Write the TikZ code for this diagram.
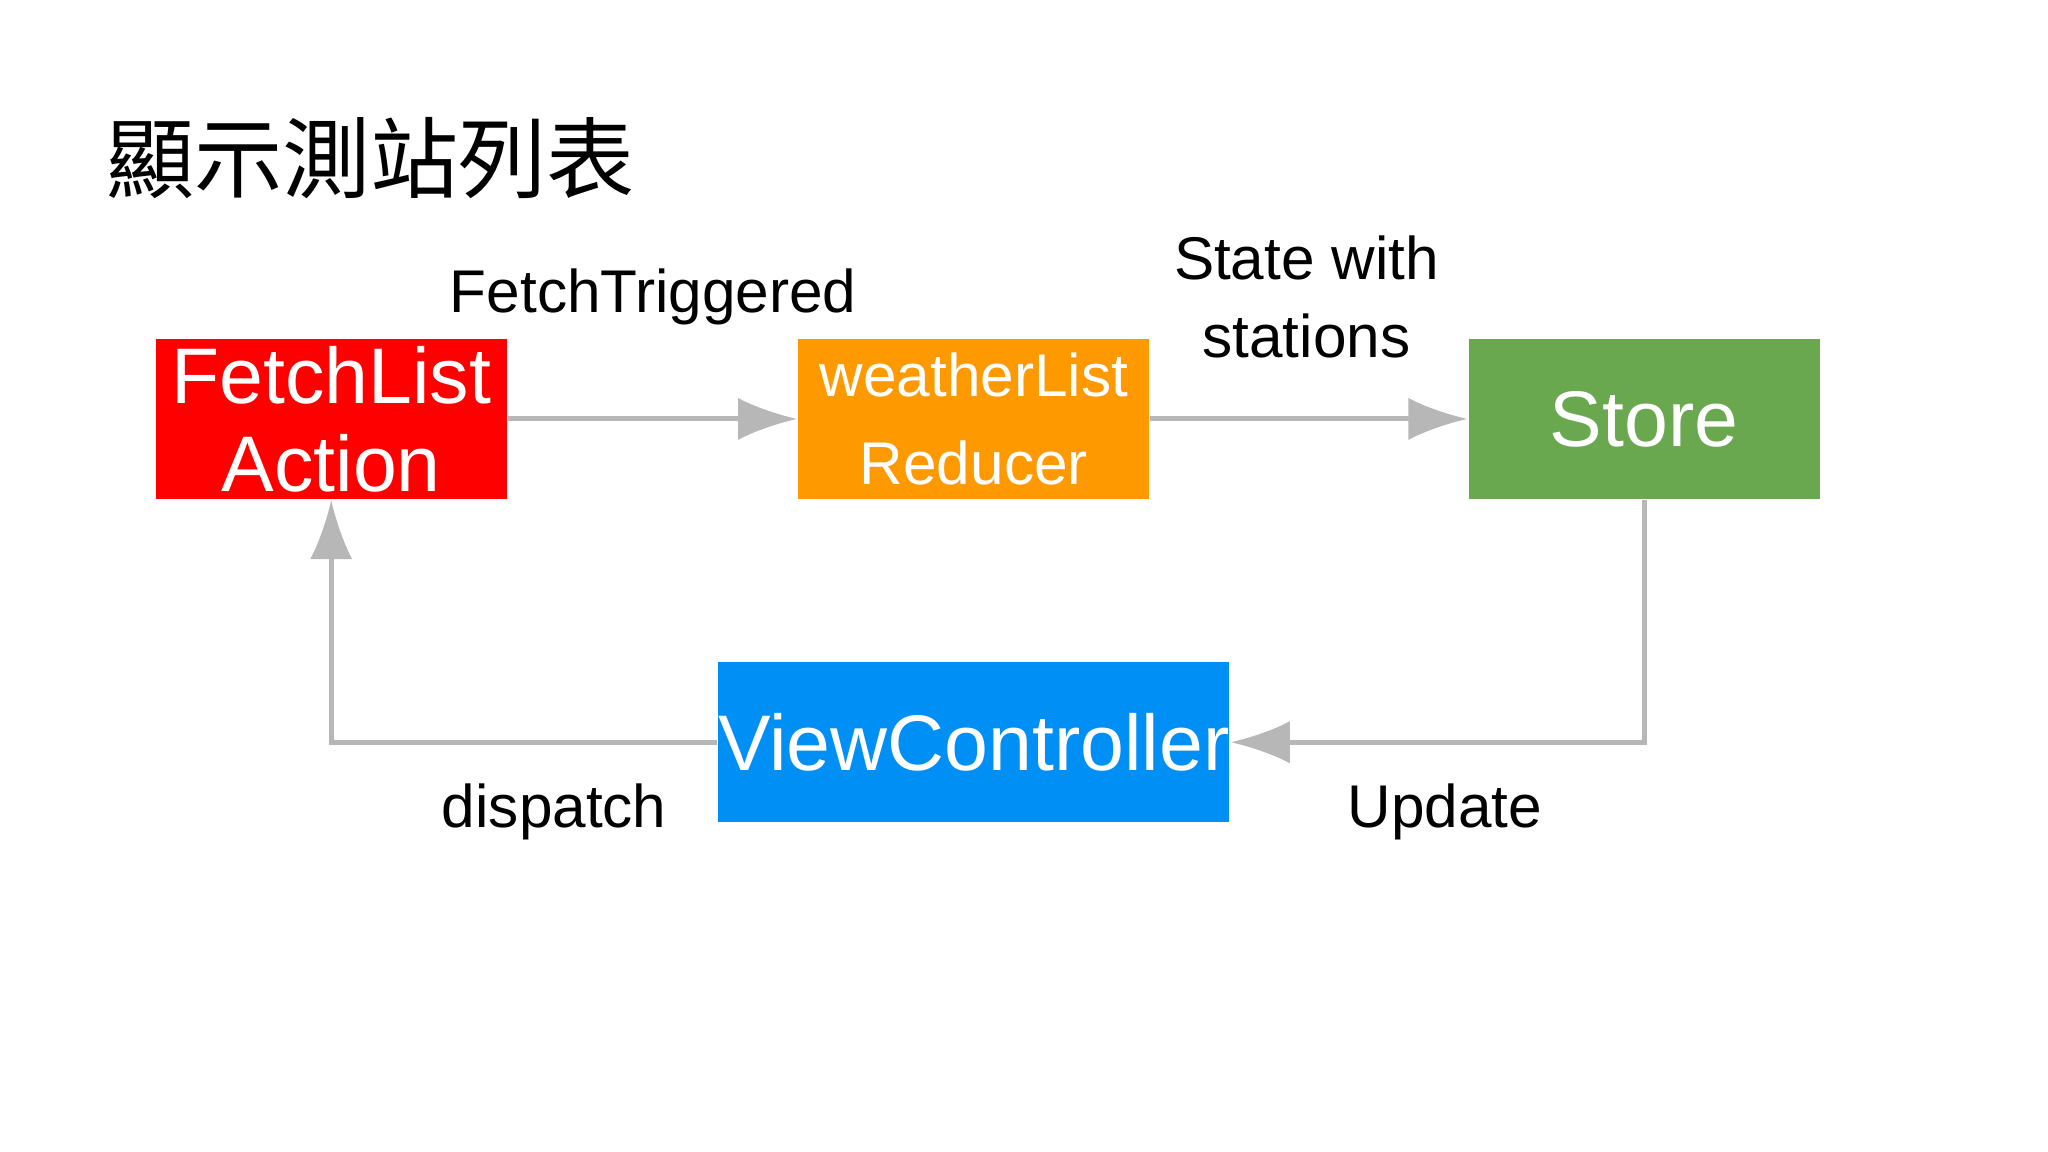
\documentclass[tikz,border=0pt]{standalone}
\usepackage{fontspec}
\setmainfont{Liberation Sans}
\newfontfamily\cjk{Noto Sans CJK TC}
\usetikzlibrary{arrows.meta}
\definecolor{boxred}{HTML}{FF0000}
\definecolor{boxorange}{HTML}{FF9900}
\definecolor{boxgreen}{HTML}{6AA84F}
\definecolor{boxblue}{HTML}{0090F5}
\definecolor{linkgray}{HTML}{B7B7B7}
\tikzset{
  >={Latex[length=4.5mm,width=3.2mm]},
  block/.style = {fill=#1, text=white, minimum width=2.66cm,
                  minimum height=1.21cm, inner sep=0, align=center,
                  font=\fontsize{17}{19}\selectfont},
  link/.style = {draw=linkgray, line width=1.1pt, ->},
  tag/.style = {font=\fontsize{13}{16}\selectfont, align=center},
}
\begin{document}
\begin{tikzpicture}
\useasboundingbox (0,0) rectangle (15.52,8.73);
\node[anchor=base west, font=\cjk\fontsize{19}{22}\selectfont] (title) at (0.68,7.28) {顯示測站列表};
\node[block=boxred] (action) at (2.51,5.555) {FetchList\\Action};
\node[block=boxorange, font=\fontsize{13}{19}\selectfont] (reducer) at (7.38,5.555) {weatherList\\Reducer};
\node[block=boxgreen] (store) at (12.46,5.555) {Store};
\node[block=boxblue, minimum width=3.74cm] (view) at (7.38,3.105) {ViewController};
\path[link] (action) -- (reducer);
\path[link] (reducer) -- (store);
\path[link] (store.south) |- (view.east);
\path[link] (view.west) -| (action.south);
\node[tag] (trig) at (4.95,6.48) {FetchTriggered};
\node[tag, font=\fontsize{13}{17}\selectfont] (state) at (9.9,6.48) {State with\\stations};
\node[tag] (disp) at (4.2,2.58) {dispatch};
\node[tag] (upd) at (10.95,2.58) {Update};
\end{tikzpicture}
\end{document}
